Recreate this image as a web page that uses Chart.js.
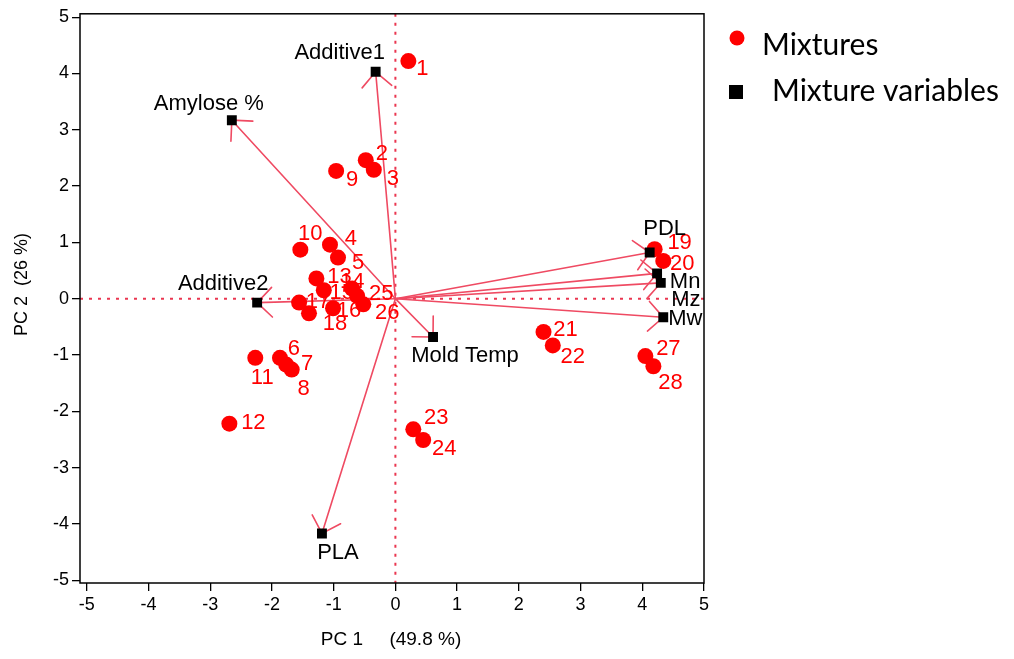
<!DOCTYPE html>
<html>
<head>
<meta charset="utf-8">
<script src="https://cdn.jsdelivr.net/npm/chart.js@4/dist/chart.umd.min.js"></script>
<style>
  html, body { margin: 0; padding: 0; background: #ffffff; overflow: hidden; }
  #wrap { width: 1014px; height: 659px; position: relative; }
</style>
</head>
<body>
<div id="wrap"><canvas id="pca" width="1014" height="659"></canvas></div>
<script>
// PCA biplot: mixture scores and mixture-variable loadings
const mixtureIds = ['1','2','3','4','5','6','7','8','9','10','11','12','13','14',
                    '15','16','17','18','19','20','21','22','23','24','25','26','27','28'];
const mixturePC1 = [0.21, -0.48, -0.35, -1.06, -0.93, -1.87, -1.77, -1.68, -0.96, -1.54,
                    -2.27, -2.69, -1.28, -0.70, -1.16, -1.01, -1.56, -1.40, 4.20, 4.34,
                    2.40, 2.55, 0.29, 0.45, -0.62, -0.52, 4.05, 4.18];
const mixturePC2 = [4.22, 2.46, 2.29, 0.96, 0.73, -1.05, -1.17, -1.26, 2.27, 0.87,
                    -1.05, -2.22, 0.36, 0.18, 0.15, -0.17, -0.07, -0.26, 0.88, 0.67,
                    -0.59, -0.83, -2.32, -2.51, 0.05, -0.10, -1.02, -1.20];

const variableNames = ['Additive1', 'Amylose %', 'Additive2', 'PLA', 'Mold Temp',
                       'PDL', 'Mn', 'Mz', 'Mw'];
const variablePC1 = [-0.32, -2.65, -2.24, -1.19, 0.61, 4.12, 4.24, 4.30, 4.34];
const variablePC2 = [4.03, 3.17, -0.07, -4.17, -0.68, 0.82, 0.45, 0.28, -0.33];

const axisTicks = [-5, -4, -3, -2, -1, 0, 1, 2, 3, 4, 5];
const xTitle = 'PC 1     (49.8 %)';
const yTitle = 'PC 2  (26 %)';
const legendLabels = ['Mixtures', 'Mixture variables'];

// label placement: pixel offsets of each label centre from its marker
const mixtureLabelOffsets = [[14,8],[16,-6],[19,9],[21,-6],[20,5],[14,-9],[21,-1],[12,19],
  [16,9],[10,-16],[7,20],[24,-1],[23,-1],[0,-7],[18,3],[16,3],[19,-1],[26,11],[25,-6],
  [19,3],[22,-2],[20,12],[23,-11],[21,9],[24,-2],[24,9],[23,-7],[17,17]];
const variableLabelOffsets = [[-36,-19],[-23,-16],[-34,-19],[16,19],[32,19],[15,-24],
  [28,9],[25,17],[22,2]];

const RED = '#ff0000';
const ARROW = '#ef4a62';
const GUIDE = '#ea3650';
const FONT = '"Liberation Sans", Arial, sans-serif';

const mixturePoints = mixturePC1.map((x, i) => ({ x, y: mixturePC2[i] }));
const variablePoints = variablePC1.map((x, i) => ({ x, y: variablePC2[i] }));

const biplotDecor = {
  id: 'biplotDecor',
  beforeDatasetsDraw(chart) {
    const { ctx, chartArea: ca, scales: { x: xs, y: ys } } = chart;
    const x0 = xs.getPixelForValue(0);
    const y0 = ys.getPixelForValue(0);

    // dotted zero lines
    ctx.save();
    ctx.strokeStyle = GUIDE;
    ctx.lineWidth = 2;
    ctx.setLineDash([3, 6]);
    ctx.beginPath();
    ctx.moveTo(ca.left, y0); ctx.lineTo(ca.right, y0);
    ctx.moveTo(x0, ca.top); ctx.lineTo(x0, ca.bottom);
    ctx.stroke();
    ctx.restore();

    // loading arrows
    ctx.save();
    ctx.strokeStyle = ARROW;
    ctx.lineWidth = 1.6;
    ctx.lineCap = 'round';
    variablePoints.forEach(p => {
      const tx = xs.getPixelForValue(p.x);
      const ty = ys.getPixelForValue(p.y);
      const ang = Math.atan2(ty - y0, tx - x0);
      const head = 21, spread = Math.PI / 4;
      ctx.beginPath();
      ctx.moveTo(x0, y0); ctx.lineTo(tx, ty);
      ctx.moveTo(tx - head * Math.cos(ang - spread), ty - head * Math.sin(ang - spread));
      ctx.lineTo(tx, ty);
      ctx.lineTo(tx - head * Math.cos(ang + spread), ty - head * Math.sin(ang + spread));
      ctx.stroke();
    });
    ctx.restore();

    // point labels
    ctx.save();
    ctx.textAlign = 'center';
    ctx.textBaseline = 'middle';
    ctx.font = '22px ' + FONT;
    ctx.fillStyle = RED;
    mixturePoints.forEach((p, i) => {
      const [dx, dy] = mixtureLabelOffsets[i];
      ctx.fillText(mixtureIds[i], xs.getPixelForValue(p.x) + dx, ys.getPixelForValue(p.y) + dy);
    });
    ctx.fillStyle = '#000000';
    variablePoints.forEach((p, i) => {
      const [dx, dy] = variableLabelOffsets[i];
      ctx.fillText(variableNames[i], xs.getPixelForValue(p.x) + dx, ys.getPixelForValue(p.y) + dy);
    });
    ctx.restore();
  },
  afterDraw(chart) {
    const { ctx, chartArea: ca } = chart;
    // plot frame
    ctx.save();
    ctx.strokeStyle = '#000000';
    ctx.lineWidth = 1.5;
    ctx.strokeRect(ca.left, ca.top, ca.right - ca.left, ca.bottom - ca.top);

    // axis titles
    ctx.fillStyle = '#000000';
    ctx.textAlign = 'center';
    ctx.textBaseline = 'middle';
    ctx.font = '19px ' + FONT;
    ctx.fillText(xTitle, (ca.left + ca.right) / 2 - 1, 640);
    ctx.font = '18px ' + FONT;
    ctx.translate(22, (ca.top + ca.bottom) / 2 - 14);
    ctx.rotate(-Math.PI / 2);
    ctx.fillText(yTitle, 0, 0);
    ctx.restore();

    // legend
    const ds = chart.data.datasets;
    ctx.save();
    ctx.fillStyle = ds[0].backgroundColor;
    ctx.beginPath();
    ctx.arc(737, 38, 7.5, 0, Math.PI * 2);
    ctx.fill();
    ctx.fillStyle = ds[1].backgroundColor;
    ctx.fillRect(729, 85, 14, 14);
    ctx.fillStyle = '#000000';
    ctx.font = '30px Lato, "Open Sans", sans-serif';
    ctx.textAlign = 'left';
    ctx.textBaseline = 'alphabetic';
    ctx.fillText(legendLabels[0], 762, 55);
    ctx.fillText(legendLabels[1], 772, 101);
    ctx.restore();
  }
};

const scaleBase = (min, max, fitKey, fitSize) => ({
  type: 'linear',
  min, max,
  afterBuildTicks: s => { s.ticks = axisTicks.map(v => ({ value: v })); },
  afterFit: s => { s[fitKey] = fitSize; },
  border: { display: false },
  grid: { display: true, drawOnChartArea: false, drawTicks: true, tickLength: 8,
          color: '#000000', lineWidth: 1.3 },
  ticks: { color: '#000000', font: { family: FONT, size: 18 }, padding: 3,
           maxRotation: 0, autoSkip: false }
});

new Chart(document.getElementById('pca'), {
  type: 'scatter',
  data: {
    datasets: [
      { label: legendLabels[0], data: mixturePoints, backgroundColor: RED,
        borderWidth: 0, pointRadius: 8, pointStyle: 'circle', order: 1 },
      { label: legendLabels[1], data: variablePoints, backgroundColor: '#000000',
        borderWidth: 0, pointRadius: 7, pointStyle: 'rect', order: 0 }
    ]
  },
  options: {
    responsive: false,
    animation: false,
    devicePixelRatio: 1,
    events: [],
    layout: { padding: { top: 11, right: 310, left: 0, bottom: 0 } },
    plugins: { legend: { display: false }, tooltip: { enabled: false } },
    scales: {
      x: scaleBase(-5.11, 5, 'height', 76),
      y: scaleBase(-5.05, 5.06, 'width', 80)
    }
  },
  plugins: [biplotDecor]
});
</script>
</body>
</html>
